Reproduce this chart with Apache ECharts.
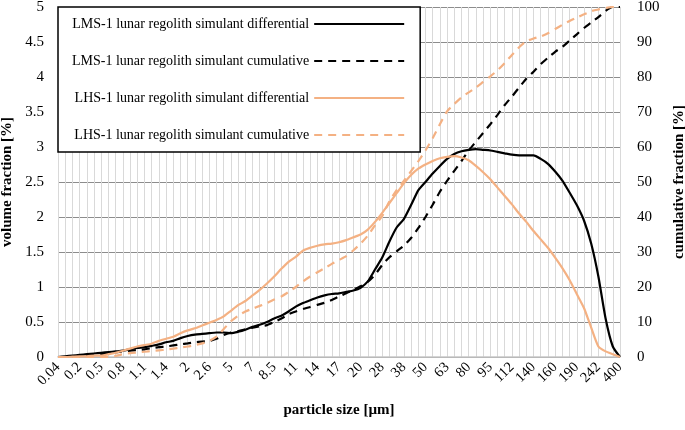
<!DOCTYPE html>
<html><head><meta charset="utf-8">
<script src="https://cdn.jsdelivr.net/npm/echarts@6/dist/echarts.min.js"></script>
<style>html,body{margin:0;padding:0;background:#fff}#c{width:685px;height:430px}</style>
</head><body><div id="c"></div>
<script>
const sizes = ['0.04','0.07','0.1','0.2','0.3','0.4','0.5','0.6','0.7','0.8','0.9','1','1.1','1.2','1.3','1.4','1.6','1.8','2','2.2','2.4','2.6','3','4','5','5.5','6','7','7.5','8','8.5','9','10','11','12','13','14','15','16','17','18','19','20','22','25','28','30','34','38','42','46','50','55','59','63','70','75','80','85','90','95','100','106','112','120','130','140','145','150','160','170','180','190','210','225','242','280','340','400'];

const lmsDiff = [0,0.01,0.02,0.03,0.04,0.05,0.06,0.07,0.08,0.09,0.11,0.13,0.14,0.16,0.18,0.21,0.23,0.27,0.30,0.32,0.33,0.34,0.35,0.35,0.34,0.36,0.39,0.43,0.46,0.50,0.55,0.59,0.65,0.72,0.77,0.81,0.85,0.88,0.90,0.91,0.93,0.95,0.99,1.08,1.25,1.42,1.65,1.85,1.97,2.17,2.38,2.50,2.62,2.73,2.83,2.90,2.94,2.96,2.97,2.96,2.95,2.93,2.91,2.89,2.88,2.88,2.88,2.83,2.76,2.65,2.52,2.35,2.17,1.95,1.62,1.15,0.55,0.15,0];

const lmsCum = [0,0,0,0.2,0.4,0.6,0.8,1.0,1.3,1.6,1.8,2.0,2.2,2.5,2.8,3.0,3.3,3.6,3.9,4.2,4.4,4.6,5.2,6.3,7.0,7.4,7.9,8.4,8.8,9.1,10.0,11.0,12.2,13.0,13.7,14.3,14.9,15.5,16.3,17.3,18.2,19.2,20.2,21.5,23.5,26.3,28.5,30.2,31.8,34.0,36.8,40.0,43.5,47.2,50.3,53.2,56.0,59.0,61.5,64.0,66.5,69.2,72.0,74.4,77.0,79.5,81.5,83.7,85.5,87.2,88.6,90.4,92.2,94.0,95.6,97.1,98.9,100,100];

const lhsDiff = [0,0,0.005,0.01,0.01,0.02,0.02,0.04,0.06,0.09,0.12,0.15,0.17,0.19,0.23,0.26,0.29,0.34,0.38,0.41,0.45,0.49,0.53,0.58,0.66,0.74,0.80,0.88,0.96,1.05,1.15,1.26,1.36,1.43,1.52,1.56,1.59,1.61,1.62,1.64,1.67,1.71,1.75,1.82,1.93,2.06,2.20,2.34,2.48,2.60,2.69,2.75,2.80,2.84,2.86,2.87,2.85,2.81,2.73,2.64,2.54,2.42,2.30,2.18,2.05,1.93,1.80,1.68,1.56,1.42,1.27,1.10,0.90,0.70,0.42,0.15,0.08,0.04,0];

const lhsCum = [0,0,0,0,0,0,0,0,0.3,0.8,1.1,1.3,1.5,1.7,1.9,2.1,2.4,2.7,3.0,3.4,3.9,4.6,5.8,8.0,10.2,11.8,13.0,13.8,14.6,15.4,16.4,17.3,18.6,20.0,21.6,23.0,24.2,25.4,26.6,27.7,28.8,30.5,32.4,34.7,37.6,40.3,44.5,47.7,50.3,53.1,55.9,59.0,62.5,66.5,70.2,72.3,74.2,75.6,77.0,78.6,80.2,81.9,84.0,86.3,88.5,90.2,91.0,91.6,92.5,93.7,94.9,96.0,97.0,97.9,98.8,99.3,99.7,100,100];

const leftTicks = {min:0, max:5, interval:0.5};
const rightTicks = {min:0, max:100, interval:10};
const names = ['LMS-1 lunar regolith simulant differential','LMS-1 lunar regolith simulant cumulative','LHS-1 lunar regolith simulant differential','LHS-1 lunar regolith simulant cumulative'];

const FONT = 'Liberation Serif';
const BLACK = '#000000', ORANGE = '#F4B183';
const chart = echarts.init(document.getElementById('c'), null, {renderer:'canvas'});
function ser(name, data, color, dashed, axis){
  return {name, type:'line', data, yAxisIndex:axis, symbol:'none', smooth:0.2,
    lineStyle:{color, width:2.2, type: dashed ? [8,6] : 'solid'}, itemStyle:{color}, z: 3};
}
chart.setOption({
  animation:false,
  textStyle:{fontFamily:FONT, color:'#000'},
  grid:{left:58, right:65, top:7, bottom:73, containLabel:false, outerBoundsMode:'none'},
  legend:{
    data:names, orient:'vertical', left:58, top:7, align:'right',
    backgroundColor:'#fff', borderColor:'#000', borderWidth:1.5,
    padding:[10,15,10,14], itemGap:23, itemWidth:90, itemHeight:14,
    itemStyle:{opacity:0},
    textStyle:{fontFamily:FONT, fontSize:14, color:'#000', width:225, padding:[0,0,0,0]},
    z:10
  },
  xAxis:{type:'category', data:sizes, boundaryGap:false,
    axisLine:{lineStyle:{color:'#c8c8c8', width:1.5}}, axisTick:{show:false},
    axisLabel:{interval:2, rotate:45, fontFamily:FONT, fontSize:14.5, color:'#000', margin:8},
    splitLine:{show:true, interval:0, lineStyle:{color:'#d9d9d9', width:1}},
    name:'particle size [µm]', nameLocation:'middle', nameGap:46,
    nameTextStyle:{fontFamily:FONT, fontSize:15, fontWeight:'bold', color:'#000'}
  },
  yAxis:[
    {type:'value', min:leftTicks.min, max:leftTicks.max, interval:leftTicks.interval,
     axisLine:{show:false}, axisTick:{show:false},
     axisLabel:{fontFamily:FONT, fontSize:15, color:'#000', margin:14},
     splitLine:{lineStyle:{color:'#8c8c8c', width:1}},
     name:'volume fraction [%]', nameLocation:'middle', nameGap:38, nameRotate:90,
     nameTextStyle:{fontFamily:FONT, fontSize:15, fontWeight:'bold', color:'#000'}},
    {type:'value', min:rightTicks.min, max:rightTicks.max, interval:rightTicks.interval, position:'right',
     axisLine:{show:false}, axisTick:{show:false},
     axisLabel:{fontFamily:FONT, fontSize:15, color:'#000', margin:17},
     splitLine:{show:false},
     name:'cumulative fraction [%]', nameLocation:'middle', nameGap:52, nameRotate:90,
     nameTextStyle:{fontFamily:FONT, fontSize:15, fontWeight:'bold', color:'#000'}}
  ],
  series:[
    ser(names[0], lmsDiff, BLACK, false, 0),
    ser(names[1], lmsCum, BLACK, true, 1),
    ser(names[2], lhsDiff, ORANGE, false, 0),
    ser(names[3], lhsCum, ORANGE, true, 1)
  ]
});
</script></body></html>
